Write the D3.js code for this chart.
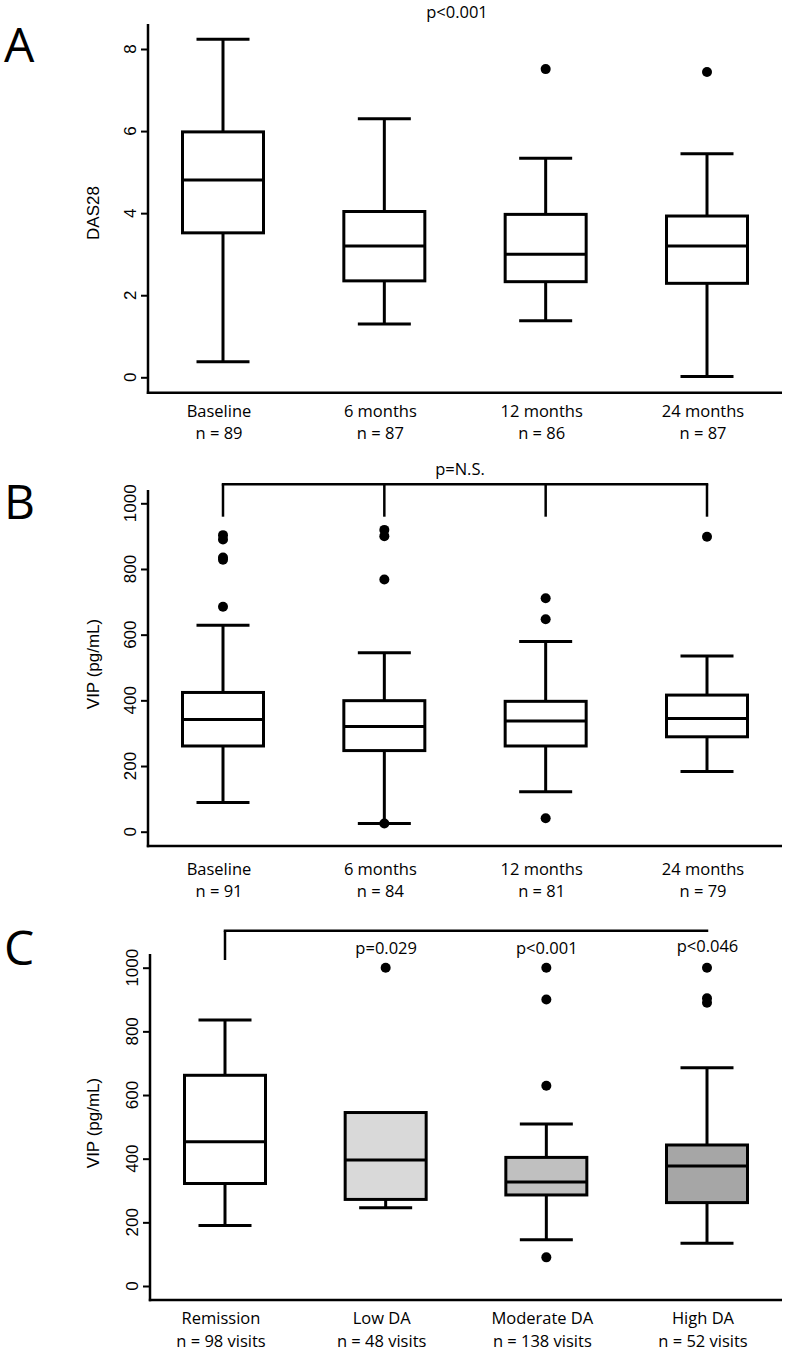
<!DOCTYPE html>
<html>
<head>
<meta charset="utf-8">
<script src="https://cdn.jsdelivr.net/npm/d3@7"></script>
<style>
  html, body { margin: 0; padding: 0; background: #fff; }
  svg { display: block; }
</style>
</head>
<body>
<svg id="chart" width="788" height="1352"></svg>
<script>
// ---------------- DATA ----------------
// Panel A: DAS28 over time
const catsA = ["Baseline", "6 months", "12 months", "24 months"];
const nA = ["n = 89", "n = 87", "n = 86", "n = 87"];
const lowA = [0.38, 1.30, 1.38, 0.02];
const q1A = [3.52, 2.35, 2.33, 2.29];
const medA = [4.81, 3.20, 3.00, 3.20];
const q3A = [5.98, 4.04, 3.97, 3.93];
const highA = [8.24, 6.30, 5.34, 5.45];
const outA = [[], [], [7.51], [7.44]];
const ticksA = [0, 2, 4, 6, 8];

// Panel B: VIP over time
const catsB = ["Baseline", "6 months", "12 months", "24 months"];
const nB = ["n = 91", "n = 84", "n = 81", "n = 79"];
const lowB = [89, 25, 122, 183];
const q1B = [261, 247, 261, 289];
const medB = [342, 320, 337, 345];
const q3B = [424, 399, 397, 416];
const highB = [629, 545, 579, 535];
const outB = [[903, 890, 835, 828, 685], [919, 900, 768, 25], [711, 647, 41], [898]];
const ticksB = [0, 200, 400, 600, 800, 1000];

// Panel C: VIP by disease activity
const catsC = ["Remission", "Low DA", "Moderate DA", "High DA"];
const nC = ["n = 98 visits", "n = 48 visits", "n = 138 visits", "n = 52 visits"];
const lowC = [190, 246, 145, 134];
const q1C = [322, 272, 286, 262];
const medC = [453, 396, 327, 377];
const q3C = [662, 545, 404, 443];
const highC = [836, 545, 509, 686];
const outC = [[], [1000], [1000, 900, 629, 90], [1000, 904, 890]];
const ticksC = [0, 200, 400, 600, 800, 1000];

// ---------------- STYLE ----------------
const fillsA = ["#fff", "#fff", "#fff", "#fff"];
const fillsC = ["#ffffff", "#d9d9d9", "#c0c0c0", "#a6a6a6"];
const labelFont = "'Open Sans', sans-serif";
const tickFont = "'Liberation Sans', Arial, sans-serif";

const svg = d3.select("#chart");

function panel(cfg) {
  const g = svg.append("g");
  const y = d3.scaleLinear().domain(cfg.domain).range(cfg.yRange);
  const x = d3.scalePoint().domain(cfg.cats).range(cfg.xRange);

  // axes (L shape)
  g.append("line").attr("x1", cfg.axisX).attr("x2", cfg.axisX)
    .attr("y1", cfg.axisTop).attr("y2", cfg.axisBottom + 1.2)
    .attr("stroke", "#000").attr("stroke-width", 2.5);
  g.append("line").attr("x1", cfg.axisX - 1.2).attr("x2", 782)
    .attr("y1", cfg.axisBottom).attr("y2", cfg.axisBottom)
    .attr("stroke", "#000").attr("stroke-width", 2.5);

  // y ticks via d3 axis
  const ax = g.append("g").attr("transform", `translate(${cfg.axisX},0)`)
    .call(d3.axisLeft(y).tickValues(cfg.ticks).tickSize(7).tickFormat(""));
  ax.select(".domain").remove();
  ax.selectAll(".tick line").attr("stroke", "#000").attr("stroke-width", 2);

  // rotated tick labels
  g.selectAll(".tl").data(cfg.ticks).enter().append("text")
    .attr("transform", d => `translate(${cfg.axisX - 12.5},${y(d)}) rotate(-90)`)
    .attr("text-anchor", "middle")
    .style("font-family", tickFont).style("font-size", "17px")
    .text(d => d);

  // y title
  g.append("text")
    .attr("transform", `translate(99,${(cfg.titleY)}) rotate(-90)`)
    .attr("text-anchor", "middle")
    .style("font-family", tickFont).style("font-size", "17px")
    .text(cfg.title);

  const halfBox = 40.5, halfCap = 26.5;
  cfg.cats.forEach((c, i) => {
    const cx = x(c);
    const bg = g.append("g");
    // whiskers
    bg.append("line").attr("x1", cx).attr("x2", cx)
      .attr("y1", y(cfg.high[i])).attr("y2", y(cfg.q3[i]))
      .attr("stroke", "#000").attr("stroke-width", 3);
    bg.append("line").attr("x1", cx).attr("x2", cx)
      .attr("y1", y(cfg.q1[i])).attr("y2", y(cfg.low[i]))
      .attr("stroke", "#000").attr("stroke-width", 3);
    if (cfg.high[i] > cfg.q3[i]) {
      bg.append("line").attr("x1", cx - halfCap).attr("x2", cx + halfCap)
        .attr("y1", y(cfg.high[i])).attr("y2", y(cfg.high[i]))
        .attr("stroke", "#000").attr("stroke-width", 3);
    }
    bg.append("line").attr("x1", cx - halfCap).attr("x2", cx + halfCap)
      .attr("y1", y(cfg.low[i])).attr("y2", y(cfg.low[i]))
      .attr("stroke", "#000").attr("stroke-width", 3);
    // box
    bg.append("rect").attr("x", cx - halfBox).attr("width", halfBox * 2)
      .attr("y", y(cfg.q3[i])).attr("height", y(cfg.q1[i]) - y(cfg.q3[i]))
      .attr("fill", cfg.fills[i]).attr("stroke", "#000").attr("stroke-width", 3);
    bg.append("line").attr("x1", cx - halfBox).attr("x2", cx + halfBox)
      .attr("y1", y(cfg.med[i])).attr("y2", y(cfg.med[i]))
      .attr("stroke", "#000").attr("stroke-width", 3);
    // outliers
    bg.selectAll("circle").data(cfg.out[i]).enter().append("circle")
      .attr("cx", cx).attr("cy", d => y(d)).attr("r", 5).attr("fill", "#000");
    // category labels
    bg.append("text").attr("x", cx - 4).attr("y", cfg.labY1)
      .attr("text-anchor", "middle")
      .style("font-family", labelFont).style("font-size", "16.5px").text(c);
    bg.append("text").attr("x", cx - 4).attr("y", cfg.labY2)
      .attr("text-anchor", "middle")
      .style("font-family", labelFont).style("font-size", "16.5px").text(cfg.ns[i]);
  });

  // panel letter
  g.append("text").attr("x", 4).attr("y", cfg.letterY)
    .style("font-family", labelFont).style("font-size", "48px").text(cfg.letter);

  return { g, x, y };
}

// Panel A
const pA = panel({
  letter: "A", letterY: 62,
  cats: catsA, ns: nA, domain: [0, 8], yRange: [377.3, 49], xRange: [223, 707],
  axisX: 148, axisTop: 24, axisBottom: 392.7, ticks: ticksA,
  title: "DAS28", titleY: 213,
  low: lowA, q1: q1A, med: medA, q3: q3A, high: highA, out: outA, fills: fillsA,
  labY1: 417, labY2: 439
});
pA.g.append("text").attr("x", 457).attr("y", 17.5).attr("text-anchor", "middle")
  .style("font-family", labelFont).style("font-size", "16.5px").text("p<0.001");

// Panel B
const pB = panel({
  letter: "B", letterY: 519,
  cats: catsB, ns: nB, domain: [0, 1000], yRange: [831.7, 503.3], xRange: [223, 707],
  axisX: 148, axisTop: 490, axisBottom: 846, ticks: ticksB,
  title: "VIP (pg/mL)", titleY: 664,
  low: lowB, q1: q1B, med: medB, q3: q3B, high: highB, out: outB, fills: fillsA,
  labY1: 875, labY2: 897
});
{
  const xs = catsB.map(c => pB.x(c));
  const by = 484.3, dropY = 516.7;
  pB.g.append("line").attr("x1", xs[0]).attr("x2", xs[3]).attr("y1", by).attr("y2", by)
    .attr("stroke", "#000").attr("stroke-width", 2.5).attr("stroke-linecap", "square");
  xs.forEach(xx => pB.g.append("line").attr("x1", xx).attr("x2", xx)
    .attr("y1", by).attr("y2", dropY).attr("stroke", "#000").attr("stroke-width", 2.5));
  pB.g.append("text").attr("x", 460).attr("y", 475).attr("text-anchor", "middle")
    .style("font-family", labelFont).style("font-size", "16.5px").text("p=N.S.");
}

// Panel C
const pC = panel({
  letter: "C", letterY: 965,
  cats: catsC, ns: nC, domain: [0, 1000], yRange: [1286, 967.7], xRange: [225, 707],
  axisX: 150, axisTop: 954, axisBottom: 1300, ticks: ticksC,
  title: "VIP (pg/mL)", titleY: 1123,
  low: lowC, q1: q1C, med: medC, q3: q3C, high: highC, out: outC, fills: fillsC,
  labY1: 1323.5, labY2: 1346.5
});
{
  const xs = catsC.map(c => pC.x(c));
  const by = 930.7, dropY = 960;
  pC.g.append("line").attr("x1", xs[0]).attr("x2", xs[3]).attr("y1", by).attr("y2", by)
    .attr("stroke", "#000").attr("stroke-width", 2.5).attr("stroke-linecap", "square");
  pC.g.append("line").attr("x1", xs[0]).attr("x2", xs[0]).attr("y1", by).attr("y2", dropY)
    .attr("stroke", "#000").attr("stroke-width", 2.5);
  const pLabels = ["p=0.029", "p<0.001", "p<0.046"];
  const pY = [953.5, 953.5, 951.5];
  pLabels.forEach((t, i) => pC.g.append("text").attr("x", xs[i + 1] + 0.5).attr("y", pY[i])
    .attr("text-anchor", "middle")
    .style("font-family", labelFont).style("font-size", "16.5px").text(t));
}
</script>
</body>
</html>
